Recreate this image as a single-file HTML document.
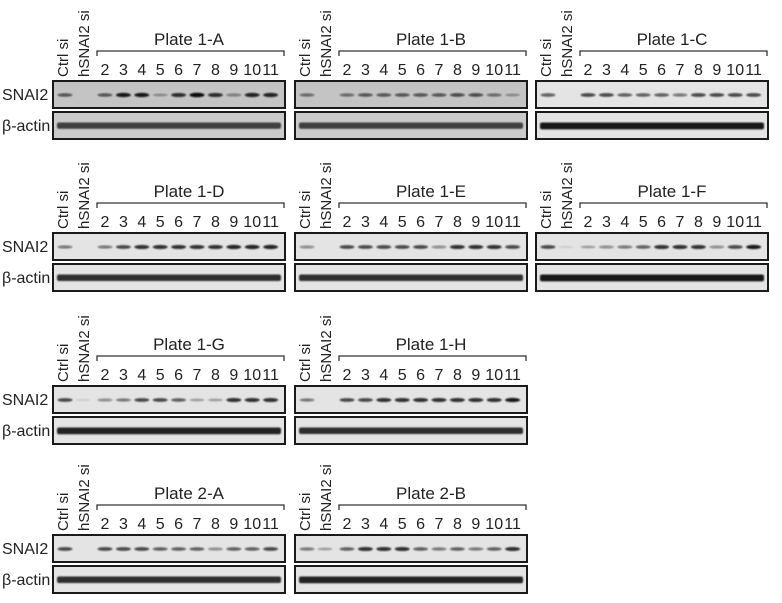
<!DOCTYPE html>
<html><head><meta charset="utf-8"><style>
html,body{margin:0;padding:0;background:#fff;}
svg{display:block;font-family:"Liberation Sans",Arial,sans-serif;}
.r{font-size:15px;fill:#222;}
.n{font-size:16px;fill:#222;text-anchor:middle;}
.t{font-size:17px;fill:#222;text-anchor:middle;}
.l{font-size:16px;fill:#222;}
</style></head><body>
<svg id="s" width="782" height="603" viewBox="0 0 782 603" xmlns="http://www.w3.org/2000/svg">
<defs>
<filter id="b" x="-50%" y="-100%" width="200%" height="300%"><feGaussianBlur stdDeviation="0.7"/></filter>
</defs>
<text class="l" x="2" y="100">SNAI2</text><text class="l" x="2" y="131">β-actin</text>
<text class="l" x="2" y="252">SNAI2</text><text class="l" x="2" y="283">β-actin</text>
<text class="l" x="2" y="405">SNAI2</text><text class="l" x="2" y="436">β-actin</text>
<text class="l" x="2" y="554">SNAI2</text><text class="l" x="2" y="585">β-actin</text>

<g id="p0" transform="translate(53,81)"><text class="t" x="136" y="-36">Plate 1-A</text></g>
<g id="p1" transform="translate(295,81)"><text class="t" x="136" y="-36">Plate 1-B</text></g>
<g id="p2" transform="translate(536,81)"><text class="t" x="136" y="-36">Plate 1-C</text></g>
<g id="p3" transform="translate(53,233)"><text class="t" x="136" y="-36">Plate 1-D</text></g>
<g id="p4" transform="translate(295,233)"><text class="t" x="136" y="-36">Plate 1-E</text></g>
<g id="p5" transform="translate(536,233)"><text class="t" x="136" y="-36">Plate 1-F</text></g>
<g id="p6" transform="translate(53,386)"><text class="t" x="136" y="-36">Plate 1-G</text></g>
<g id="p7" transform="translate(295,386)"><text class="t" x="136" y="-36">Plate 1-H</text></g>
<g id="p8" transform="translate(53,535)"><text class="t" x="136" y="-36">Plate 2-A</text></g>
<g id="p9" transform="translate(295,535)"><text class="t" x="136" y="-36">Plate 2-B</text></g>
</svg>
<div id="txt" style="display:none">
Ctrl si hSNAI2 si 2 3 4 5 6 7 8 9 10 11
</div>
<script>
var NS="http://www.w3.org/2000/svg";
function el(p,n,a,txt){var e=document.createElementNS(NS,n);for(var k in a)e.setAttribute(k,a[k]);if(txt!=null)e.textContent=txt;p.appendChild(e);return e;}
var data=[
[.6,0,.6,.9,.9,.3,.8,1,.8,.4,.85,.85],
[.5,0,.5,.6,.6,.6,.6,.6,.65,.65,.5,.3],
[.6,0,.7,.7,.6,.6,.6,.5,.7,.7,.7,.7],
[.5,0,.5,.7,.8,.8,.8,.8,.8,.85,.85,.85],
[.4,0,.7,.7,.7,.7,.7,.4,.8,.8,.8,.7],
[.7,.1,.3,.4,.5,.6,.8,.8,.8,.4,.7,.9],
[.7,.1,.4,.5,.7,.7,.6,.3,.3,.8,.8,.8],
[.5,0,.7,.7,.8,.8,.8,.8,.8,.8,.8,.9],
[.7,0,.7,.7,.7,.6,.6,.6,.4,.6,.6,.7],
[.5,.3,.6,.8,.8,.8,.6,.5,.6,.5,.6,.8]];
var act=[.75,.75,.95,.85,.85,.95,.9,.85,.85,.9];
var lanes=[12,30];for(var i=0;i<10;i++)lanes.push(52+i*18.4);
for(var p=0;p<10;p++){
 var g=document.getElementById("p"+p);
 var bg=p<2?"#c4c4c4":"#e4e4e4";
 el(g,"text",{"class":"r",transform:"translate(15,-4) rotate(-90)"},"Ctrl si");
 el(g,"text",{"class":"r",transform:"translate(36,-4) rotate(-90)"},"hSNAI2 si");
 for(var i=2;i<12;i++)el(g,"text",{"class":"n",x:lanes[i],y:-6},String(i));
 el(g,"path",{d:"M44,-25 V-30 H231 V-25",fill:"none",stroke:"#333","stroke-width":"1.3"});
 el(g,"rect",{x:0,y:0,width:232,height:27,fill:bg,stroke:"#1a1a1a","stroke-width":"2"});
 el(g,"rect",{x:0,y:31,width:232,height:27,fill:p<2?"#cbcbcb":"#e4e4e4",stroke:"#1a1a1a","stroke-width":"2"});
 var bg2=el(g,"g",{filter:"url(#b)"});
 for(var i=0;i<12;i++){var v=data[p][i];if(v<=0)continue;
  el(bg2,"ellipse",{cx:lanes[i],cy:14,rx:7.5,ry:1+v*1.3,fill:"#111",opacity:Math.min(1,v*1.05)});}
 var a=act[p];
 el(bg2,"rect",{x:4,y:41.5,width:224,height:4+a*3,rx:2,fill:"#111",opacity:a});
}
</script>
</body></html>
